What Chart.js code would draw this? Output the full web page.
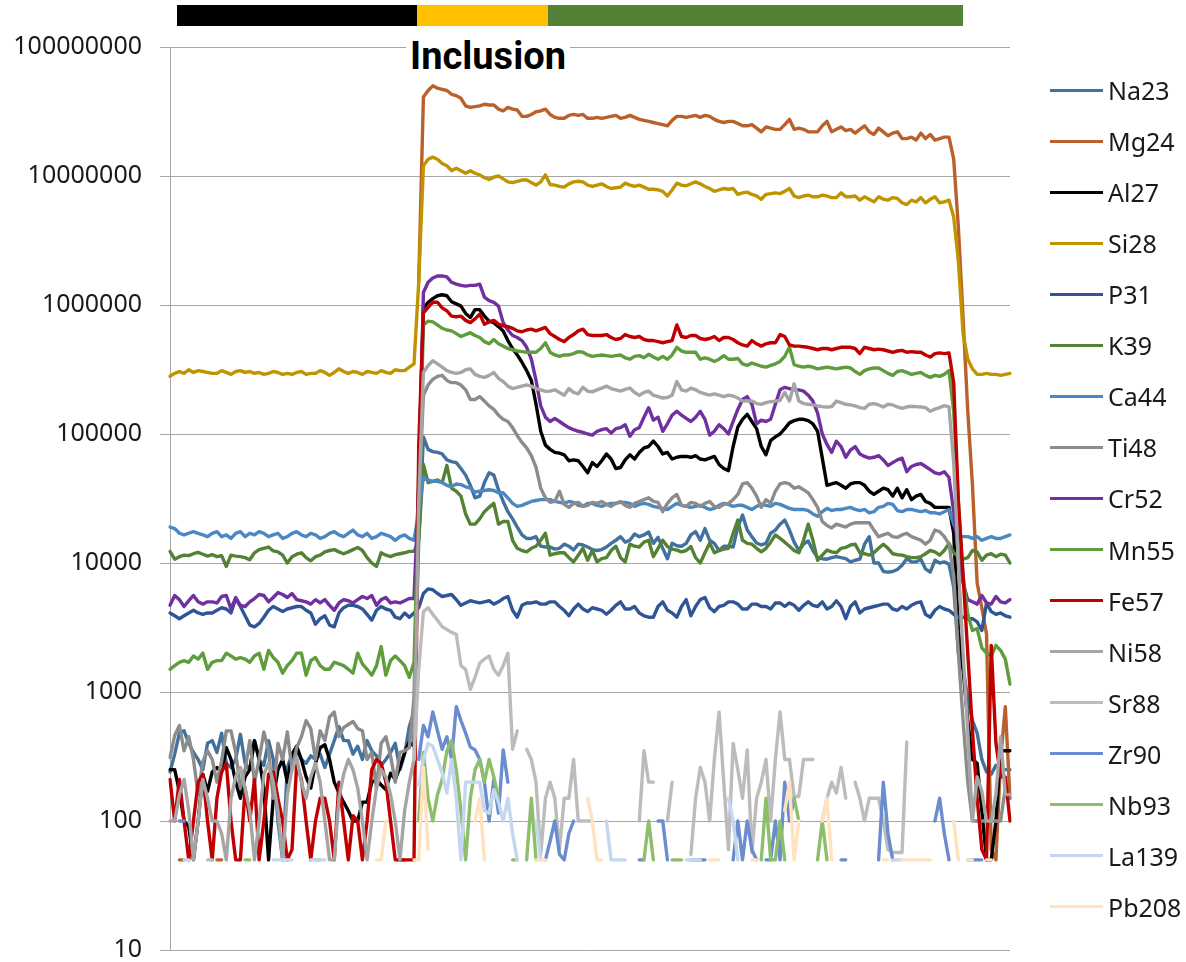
<!DOCTYPE html>
<html>
<head>
<meta charset="utf-8">
<script src="https://cdn.jsdelivr.net/npm/chart.js"></script>
<style>
html, body { margin: 0; padding: 0; background: #fff; overflow: hidden; }
#wrap { position: relative; width: 1186px; height: 962px; overflow: hidden; font-family: 'Noto Sans', sans-serif; }
#chart { position: absolute; left: 0; top: 0; }
.band { position: absolute; top: 5px; height: 21px; }
#title { position: absolute; left: 488px; top: 34px; transform: translateX(-50%); font-family: Roboto, sans-serif; font-weight: bold; font-size: 38px; line-height: 44px; background: #fff; padding: 0 4px; color: #000; }
.legend-row { position: absolute; left: 1050px; height: 30px; line-height: 30px; font-size: 25px; color: #1a1a1a; display: flex; align-items: center; white-space: nowrap; }
.swatch { display: inline-block; width: 53px; height: 3px; margin-right: 5px; }
</style>
</head>
<body>
<div id="wrap">
  <canvas id="chart" width="1186" height="983"></canvas>
  <div class="band" style="left:177px;width:240px;background:#000000"></div>
  <div class="band" style="left:417px;width:131px;background:#FFC000"></div>
  <div class="band" style="left:548px;width:415px;background:#538135"></div>
  <div id="title">Inclusion</div>
</div>
<script>
// counts per sweep (null = no value / gap)
const na23 = [
240, 330, 480, 500, 400, 340, 300, 250, 400, 420,
340, 480, 280, 260, 300, 470, 280, 250, 420, 300,
270, 420, 300, 100, 50, 260, 330, 350, 300, 280,
320, 300, 330, 260, 330, 420, 540, 420, 420, 330,
380, 300, 420, 350, 320, 270, 300, 340, 400, 250,
330, 540, 700, 1.5e4, 9.5e4, 7.6e4, 7.3e4, 7.2e4, 7.0e4, 6.3e4,
6.1e4, 6.0e4, 5.4e4, 4.8e4, 4.0e4, 3.2e4, 3.3e4, 4.2e4, 5.0e4, 4.8e4,
3.7e4, 3.0e4, 2.5e4, 2.2e4, 1.9e4, 1.65e4, 1.55e4, 1.55e4, 1.6e4, 1.35e4,
1.33e4, 1.33e4, 1.28e4, 1.3e4, 1.4e4, 1.35e4, 1.26e4, 1.4e4, 1.38e4, 1.33e4,
1.27e4, 1.25e4, 1.27e4, 1.33e4, 1.42e4, 1.5e4, 1.6e4, 1.45e4, 1.5e4, 1.68e4,
1.6e4, 1.65e4, 1.74e4, 1.42e4, 1.58e4, 1.3e4, 1.08e4, 1.42e4, 1.36e4, 1.35e4,
1.42e4, 1.65e4, 1.75e4, 1.5e4, 1.85e4, 1.5e4, 1.42e4, 1.25e4, 1.35e4, 1.35e4,
1.33e4, 1.9e4, 2.35e4, 1.8e4, 1.6e4, 1.43e4, 1.38e4, 1.42e4, 1.7e4, 1.8e4,
2.0e4, 2.15e4, 1.8e4, 1.45e4, 1.25e4, 1.4e4, 1.48e4, 1.25e4, 1.1e4, 1.08e4,
1.07e4, 1.1e4, 1.12e4, 1.1e4, 1.08e4, 1.02e4, 1.05e4, 1.07e4, 1.4e4, 1.6e4,
1.0e4, 1.0e4, 8.6e3, 8.5e3, 8.6e3, 8.9e3, 9.6e3, 1.08e4, 1.02e4, 1.02e4,
1.07e4, 9.0e3, 8.5e3, 1.05e4, 1.0e4, 1.02e4, 9.8e3, 6.5e3, 2.0e3, 1.5e3,
900, 600, 480, 300, 240, 230, 270, 260, 250, 250
];
const mg24 = [
null, null, 50, 50, null, null, null, null, null, null,
50, 50, null, null, null, null, null, null, null, null,
null, null, null, null, null, null, null, null, null, null,
null, null, null, null, null, null, null, null, null, null,
null, null, null, null, null, null, null, null, null, 50,
50, null, null, 1.5e6, 4.1e7, 4.6e7, 5.0e7, 4.8e7, 4.7e7, 4.6e7,
4.3e7, 4.2e7, 4.0e7, 3.5e7, 3.4e7, 3.45e7, 3.5e7, 3.6e7, 3.55e7, 3.55e7,
3.3e7, 3.2e7, 3.4e7, 3.3e7, 3.25e7, 2.9e7, 2.9e7, 3.0e7, 3.15e7, 3.2e7,
3.3e7, 3.0e7, 2.85e7, 2.8e7, 2.8e7, 2.95e7, 3.0e7, 2.95e7, 3.0e7, 2.8e7,
2.8e7, 2.85e7, 2.8e7, 2.85e7, 2.9e7, 2.95e7, 2.8e7, 2.85e7, 2.95e7, 2.85e7,
2.75e7, 2.7e7, 2.65e7, 2.6e7, 2.55e7, 2.5e7, 2.45e7, 2.7e7, 2.9e7, 2.9e7,
2.85e7, 2.9e7, 2.95e7, 2.85e7, 2.95e7, 2.9e7, 2.75e7, 2.65e7, 2.6e7, 2.65e7,
2.65e7, 2.55e7, 2.45e7, 2.45e7, 2.5e7, 2.35e7, 2.2e7, 2.4e7, 2.35e7, 2.3e7,
2.3e7, 2.5e7, 2.75e7, 2.3e7, 2.35e7, 2.3e7, 2.2e7, 2.2e7, 2.2e7, 2.45e7,
2.65e7, 2.2e7, 2.3e7, 2.4e7, 2.25e7, 2.3e7, 2.15e7, 2.3e7, 2.45e7, 2.2e7,
2.1e7, 2.35e7, 2.2e7, 2.05e7, 2.15e7, 2.2e7, 1.95e7, 1.95e7, 2.0e7, 1.9e7,
2.15e7, 1.95e7, 2.1e7, 1.9e7, 1.95e7, 2.0e7, 2.0e7, 1.35e7, 4e6, 8e5,
1.5e5, 4e4, 7e3, 4.5e3, 2.8e3, 60, 50, 300, 770, 150
];
const al27 = [
250, 250, 170, 100, 90, 50, 100, 230, 170, 240,
260, 240, 370, 300, 200, 150, 220, 250, 420, 300,
180, 50, 150, 250, 300, 200, 330, 380, 300, 220,
180, 280, 370, 390, 300, 200, 165, 140, 120, 100,
100, 140, 140, 200, 210, 190, 175, 235, 210, 260,
340, 410, 380, 5e4, 9.5e5, 1.05e6, 1.12e6, 1.18e6, 1.2e6, 1.18e6,
1.06e6, 1.02e6, 9.8e5, 8.6e5, 8.0e5, 9.2e5, 9.2e5, 8.2e5, 7.5e5, 7.3e5,
6.8e5, 6.3e5, 5.3e5, 4.6e5, 4.1e5, 3.6e5, 3.1e5, 2.6e5, 1.7e5, 1.05e5,
8.2e4, 7.6e4, 7.2e4, 7.1e4, 6.9e4, 6.2e4, 6.3e4, 6.2e4, 5.6e4, 5.0e4,
6.0e4, 5.6e4, 6.2e4, 7.0e4, 6.4e4, 5.4e4, 5.5e4, 6.3e4, 6.9e4, 6.4e4,
7.2e4, 7.8e4, 8.0e4, 8.8e4, 8.0e4, 7.0e4, 7.2e4, 6.4e4, 6.6e4, 6.7e4,
6.7e4, 6.6e4, 6.8e4, 6.4e4, 6.3e4, 6.5e4, 6.7e4, 5.8e4, 5.4e4, 5.2e4,
8.0e4, 1.13e5, 1.3e5, 1.42e5, 1.25e5, 1.1e5, 8.0e4, 6.9e4, 8.9e4, 9.5e4,
1.0e5, 1.1e5, 1.22e5, 1.27e5, 1.3e5, 1.3e5, 1.27e5, 1.2e5, 1.05e5, 6.5e4,
4.0e4, 4.1e4, 4.2e4, 4.0e4, 3.8e4, 4.1e4, 4.2e4, 4.2e4, 4.0e4, 3.6e4,
3.4e4, 3.6e4, 3.8e4, 3.7e4, 3.3e4, 3.8e4, 3.2e4, 3.7e4, 3.1e4, 3.3e4,
3.4e4, 3.0e4, 2.9e4, 2.7e4, 2.7e4, 2.7e4, 2.7e4, 1.7e4, 3e3, 1.5e3,
600, 300, 280, 120, 50, 50, 100, 350, 350, 350
];
const si28 = [
2.8e5, 2.95e5, 3.05e5, 2.95e5, 3.15e5, 3.0e5, 3.1e5, 3.05e5, 3.0e5, 2.95e5,
2.95e5, 3.1e5, 3.0e5, 2.9e5, 3.05e5, 3.1e5, 3.0e5, 3.05e5, 2.95e5, 3.0e5,
2.9e5, 2.95e5, 3.05e5, 3.0e5, 2.9e5, 2.95e5, 2.9e5, 3.0e5, 3.05e5, 2.9e5,
2.95e5, 2.95e5, 3.1e5, 3.0e5, 2.85e5, 3.0e5, 3.2e5, 3.05e5, 2.95e5, 3.05e5,
3.0e5, 2.9e5, 3.05e5, 3.0e5, 2.95e5, 3.1e5, 3.0e5, 2.95e5, 3.15e5, 3.1e5,
3.1e5, 3.3e5, 3.5e5, 1.5e6, 1.2e7, 1.35e7, 1.4e7, 1.35e7, 1.25e7, 1.2e7,
1.1e7, 1.15e7, 1.1e7, 1.05e7, 1.1e7, 1.05e7, 1.02e7, 9.7e6, 9.4e6, 9.8e6,
1.0e7, 9.5e6, 9.0e6, 8.9e6, 9.1e6, 9.3e6, 9.3e6, 8.9e6, 8.5e6, 9.0e6,
1.02e7, 8.6e6, 8.5e6, 8.3e6, 8.2e6, 8.7e6, 9.0e6, 9.1e6, 9.0e6, 8.5e6,
8.3e6, 8.5e6, 8.7e6, 8.3e6, 8.0e6, 8.1e6, 8.2e6, 8.8e6, 8.5e6, 8.3e6,
8.5e6, 8.2e6, 7.9e6, 7.9e6, 7.8e6, 7.6e6, 7.0e6, 7.8e6, 8.8e6, 8.5e6,
8.4e6, 8.7e6, 9.0e6, 8.7e6, 8.3e6, 8.0e6, 7.6e6, 7.8e6, 8.0e6, 7.9e6,
8.0e6, 7.2e6, 7.4e6, 7.5e6, 7.2e6, 7.0e6, 6.6e6, 7.2e6, 7.3e6, 7.4e6,
7.3e6, 7.6e6, 8.0e6, 7.0e6, 6.8e6, 7.0e6, 7.1e6, 6.9e6, 6.9e6, 7.1e6,
7.0e6, 6.8e6, 6.8e6, 7.4e6, 6.9e6, 6.9e6, 7.0e6, 6.5e6, 6.9e6, 6.6e6,
6.3e6, 6.9e6, 6.6e6, 6.5e6, 6.8e6, 6.7e6, 6.2e6, 6.0e6, 6.5e6, 6.3e6,
6.8e6, 6.2e6, 6.6e6, 6.9e6, 6.2e6, 6.3e6, 6.5e6, 4.8e6, 2.2e6, 6e5,
3.8e5, 3.2e5, 2.9e5, 2.9e5, 2.95e5, 2.9e5, 2.9e5, 2.85e5, 2.9e5, 2.95e5
];
const p31 = [
4.1e3, 3.9e3, 3.7e3, 3.9e3, 4.1e3, 4.3e3, 4.1e3, 4.0e3, 4.1e3, 4.1e3,
4.3e3, 4.5e3, 4.4e3, 4.1e3, 5.3e3, 4.6e3, 3.9e3, 3.3e3, 3.2e3, 3.4e3,
3.8e3, 4.3e3, 4.6e3, 4.4e3, 4.2e3, 4.4e3, 4.5e3, 4.6e3, 4.6e3, 4.3e3,
4.1e3, 3.35e3, 3.7e3, 3.9e3, 3.3e3, 3.2e3, 4.1e3, 4.5e3, 4.7e3, 4.7e3,
4.6e3, 4.4e3, 4.0e3, 3.6e3, 4.3e3, 4.6e3, 4.4e3, 4.3e3, 3.8e3, 3.7e3,
4.1e3, 3.8e3, 4.1e3, 4.5e3, 5.8e3, 6.3e3, 6.2e3, 5.8e3, 5.5e3, 5.6e3,
5.7e3, 5.2e3, 4.7e3, 4.9e3, 5.1e3, 5.0e3, 4.9e3, 5.0e3, 5.1e3, 4.8e3,
5.0e3, 5.3e3, 5.5e3, 4.3e3, 3.8e3, 4.7e3, 4.9e3, 4.9e3, 5.0e3, 4.8e3,
4.8e3, 5.0e3, 5.0e3, 4.6e3, 4.3e3, 3.9e3, 4.4e3, 4.8e3, 4.4e3, 4.2e3,
4.5e3, 4.4e3, 4.3e3, 4.0e3, 4.3e3, 4.7e3, 5.0e3, 4.4e3, 4.4e3, 4.6e3,
4.1e3, 3.9e3, 3.8e3, 3.8e3, 4.6e3, 5.0e3, 4.3e3, 4.1e3, 3.8e3, 4.6e3,
5.2e3, 3.9e3, 4.6e3, 5.2e3, 5.4e3, 4.5e3, 4.2e3, 4.6e3, 4.7e3, 5.0e3,
5.0e3, 4.8e3, 4.4e3, 4.4e3, 4.8e3, 4.8e3, 4.6e3, 4.6e3, 4.4e3, 4.9e3,
4.9e3, 4.6e3, 4.9e3, 4.7e3, 4.3e3, 4.7e3, 5.0e3, 4.7e3, 4.6e3, 5.0e3,
4.4e3, 4.6e3, 5.1e3, 4.6e3, 3.7e3, 4.6e3, 5.0e3, 4.1e3, 4.4e3, 4.5e3,
4.6e3, 4.7e3, 4.8e3, 4.8e3, 4.4e3, 4.3e3, 4.6e3, 4.4e3, 4.7e3, 4.9e3,
5.0e3, 4.0e3, 3.8e3, 4.3e3, 4.6e3, 4.4e3, 4.3e3, 4.0e3, 3.8e3, 3.8e3,
3.7e3, 3.7e3, 3.5e3, 3.0e3, 4.9e3, 4.2e3, 4.0e3, 4.1e3, 3.9e3, 3.8e3
];
const k39 = [
1.23e4, 1.07e4, 1.12e4, 1.15e4, 1.14e4, 1.18e4, 1.21e4, 1.17e4, 1.13e4, 1.16e4,
1.12e4, 1.14e4, 9.4e3, 1.15e4, 1.13e4, 1.12e4, 1.1e4, 1.06e4, 1.2e4, 1.27e4,
1.3e4, 1.33e4, 1.24e4, 1.22e4, 1.15e4, 1.0e4, 1.12e4, 1.17e4, 1.2e4, 1.1e4,
1.04e4, 1.12e4, 1.15e4, 1.22e4, 1.25e4, 1.27e4, 1.22e4, 1.18e4, 1.22e4, 1.27e4,
1.32e4, 1.25e4, 1.1e4, 1.0e4, 9.4e3, 1.2e4, 1.15e4, 1.12e4, 1.16e4, 1.18e4,
1.2e4, 1.23e4, 1.23e4, 1.5e4, 5.8e4, 4.2e4, 4.3e4, 4.4e4, 4.2e4, 5.7e4,
3.8e4, 3.6e4, 3.3e4, 2.4e4, 2.0e4, 2.0e4, 2.2e4, 2.5e4, 2.7e4, 2.9e4,
2.0e4, 2.1e4, 2.1e4, 1.5e4, 1.3e4, 1.25e4, 1.22e4, 1.3e4, 1.35e4, 1.5e4,
1.7e4, 1.15e4, 1.18e4, 1.2e4, 1.2e4, 1.1e4, 1.02e4, 1.15e4, 1.3e4, 1.05e4,
1.25e4, 1.02e4, 1.08e4, 1.1e4, 1.25e4, 1.35e4, 1.1e4, 1.02e4, 1.4e4, 1.35e4,
1.33e4, 1.45e4, 1.5e4, 1.12e4, 1.3e4, 1.5e4, 1.34e4, 1.28e4, 1.26e4, 1.22e4,
1.25e4, 1.34e4, 1.1e4, 1.0e4, 1.2e4, 1.43e4, 1.2e4, 1.25e4, 1.28e4, 1.3e4,
1.7e4, 2.15e4, 1.5e4, 1.42e4, 1.4e4, 1.3e4, 1.22e4, 1.3e4, 1.45e4, 1.65e4,
1.55e4, 1.45e4, 1.35e4, 1.25e4, 1.2e4, 1.5e4, 2.0e4, 1.5e4, 1.05e4, 1.15e4,
1.26e4, 1.22e4, 1.2e4, 1.3e4, 1.32e4, 1.38e4, 1.4e4, 1.2e4, 1.18e4, 1.15e4,
1.2e4, 1.3e4, 1.4e4, 1.3e4, 1.18e4, 1.16e4, 1.15e4, 1.12e4, 1.1e4, 1.1e4,
1.12e4, 1.18e4, 1.25e4, 1.22e4, 1.15e4, 1.25e4, 1.42e4, 1.2e4, 1.12e4, 1.07e4,
1.1e4, 1.25e4, 1.22e4, 1.05e4, 1.15e4, 1.18e4, 1.12e4, 1.17e4, 1.15e4, 1.0e4
];
const ca44 = [
1.9e4, 1.85e4, 1.7e4, 1.65e4, 1.7e4, 1.75e4, 1.7e4, 1.65e4, 1.6e4, 1.7e4,
1.75e4, 1.6e4, 1.65e4, 1.55e4, 1.7e4, 1.75e4, 1.6e4, 1.7e4, 1.65e4, 1.75e4,
1.7e4, 1.6e4, 1.65e4, 1.7e4, 1.55e4, 1.6e4, 1.7e4, 1.75e4, 1.65e4, 1.6e4,
1.7e4, 1.65e4, 1.55e4, 1.6e4, 1.7e4, 1.75e4, 1.65e4, 1.6e4, 1.7e4, 1.8e4,
1.65e4, 1.6e4, 1.7e4, 1.55e4, 1.6e4, 1.7e4, 1.65e4, 1.6e4, 1.5e4, 1.6e4,
1.65e4, 1.55e4, 1.5e4, 2.5e4, 4.6e4, 4.4e4, 4.3e4, 4.3e4, 4.2e4, 4.0e4,
3.9e4, 4.1e4, 4.05e4, 3.9e4, 3.8e4, 3.55e4, 3.6e4, 3.65e4, 3.7e4, 3.65e4,
3.5e4, 3.5e4, 3.2e4, 2.9e4, 2.75e4, 2.8e4, 2.9e4, 3.0e4, 3.05e4, 3.1e4,
3.1e4, 3.1e4, 3.0e4, 2.95e4, 2.9e4, 3.0e4, 2.95e4, 2.8e4, 2.75e4, 2.9e4,
2.9e4, 2.8e4, 2.75e4, 2.85e4, 2.9e4, 2.9e4, 2.95e4, 2.95e4, 2.9e4, 2.75e4,
2.85e4, 2.9e4, 2.85e4, 2.75e4, 2.7e4, 2.65e4, 2.6e4, 2.75e4, 2.9e4, 2.8e4,
2.75e4, 2.7e4, 2.75e4, 2.8e4, 2.7e4, 2.6e4, 2.65e4, 2.8e4, 2.9e4, 2.85e4,
2.75e4, 2.8e4, 2.8e4, 2.7e4, 2.6e4, 2.75e4, 2.85e4, 2.8e4, 2.75e4, 2.9e4,
2.85e4, 2.75e4, 2.65e4, 2.6e4, 2.6e4, 2.6e4, 2.55e4, 2.4e4, 2.3e4, 2.5e4,
2.65e4, 2.55e4, 2.6e4, 2.6e4, 2.65e4, 2.7e4, 2.6e4, 2.55e4, 2.6e4, 2.45e4,
2.5e4, 2.7e4, 2.75e4, 2.9e4, 2.85e4, 2.55e4, 2.5e4, 2.6e4, 2.6e4, 2.55e4,
2.5e4, 2.55e4, 2.45e4, 2.45e4, 2.4e4, 2.5e4, 2.6e4, 2.0e4, 1.6e4, 1.6e4,
1.6e4, 1.55e4, 1.6e4, 1.5e4, 1.55e4, 1.6e4, 1.55e4, 1.55e4, 1.6e4, 1.65e4
];
const ti48 = [
310, 460, 550, 350, 450, 300, 160, 290, 350, 300,
200, 290, 500, 500, 340, 180, 250, 420, 200, 300,
490, 350, 150, 400, 300, 490, 250, 370, 450, 600,
520, 300, 500, 420, 640, 700, 450, 530, 560, 590,
520, 500, 300, 340, 180, 400, 450, 320, 200, 340,
350, 370, 900, 3e4, 2.0e5, 2.4e5, 2.65e5, 2.8e5, 2.85e5, 2.6e5,
2.5e5, 2.5e5, 2.4e5, 2.2e5, 1.85e5, 1.85e5, 1.95e5, 1.8e5, 1.65e5, 1.55e5,
1.4e5, 1.3e5, 1.25e5, 1.12e5, 9.7e4, 8.6e4, 7.8e4, 6.8e4, 5.5e4, 3.8e4,
3.2e4, 2.95e4, 3.0e4, 3.6e4, 2.85e4, 2.7e4, 2.9e4, 2.95e4, 2.75e4, 2.8e4,
2.95e4, 2.9e4, 3.0e4, 2.85e4, 2.75e4, 2.9e4, 3.0e4, 2.8e4, 2.7e4, 2.9e4,
3.0e4, 3.1e4, 3.2e4, 3.0e4, 2.95e4, 2.5e4, 2.9e4, 3.2e4, 3.4e4, 2.8e4,
2.75e4, 2.95e4, 2.9e4, 2.75e4, 2.9e4, 3.0e4, 2.75e4, 2.7e4, 2.85e4, 2.9e4,
3.1e4, 3.4e4, 4.1e4, 4.2e4, 3.8e4, 3.3e4, 2.7e4, 3.1e4, 2.9e4, 3.6e4,
4.1e4, 4.2e4, 4.1e4, 3.8e4, 3.9e4, 3.7e4, 3.5e4, 3.1e4, 2.7e4, 2.1e4,
1.95e4, 1.87e4, 2.0e4, 1.95e4, 1.9e4, 2.0e4, 2.05e4, 2.05e4, 2.05e4, 2.05e4,
1.8e4, 1.6e4, 1.65e4, 1.7e4, 1.6e4, 1.58e4, 1.65e4, 1.7e4, 1.6e4, 1.55e4,
1.5e4, 1.4e4, 1.5e4, 1.8e4, 1.75e4, 1.6e4, 1.4e4, 8e3, 2e3, 600,
200, 100, 100, 100, 100, 100, 100, 100, 180, 150
];
const cr52 = [
4.7e3, 5.6e3, 5.2e3, 4.6e3, 5.1e3, 5.6e3, 5.0e3, 4.8e3, 5.0e3, 5.0e3,
4.9e3, 5.5e3, 5.6e3, 4.4e3, 5.4e3, 4.7e3, 4.6e3, 5.0e3, 5.3e3, 5.7e3,
5.6e3, 5.0e3, 5.4e3, 5.9e3, 5.7e3, 5.4e3, 5.8e3, 5.2e3, 5.1e3, 5.0e3,
4.8e3, 5.2e3, 4.9e3, 5.2e3, 4.7e3, 4.3e3, 4.9e3, 5.2e3, 5.1e3, 4.9e3,
5.2e3, 5.5e3, 5.3e3, 5.6e3, 4.7e3, 5.2e3, 5.4e3, 4.9e3, 5.0e3, 4.9e3,
5.1e3, 5.3e3, 5.3e3, 4e4, 1.25e6, 1.5e6, 1.62e6, 1.68e6, 1.68e6, 1.65e6,
1.5e6, 1.45e6, 1.42e6, 1.4e6, 1.42e6, 1.42e6, 1.45e6, 1.15e6, 1.08e6, 1.05e6,
9.8e5, 7.3e5, 6.4e5, 5.8e5, 5.6e5, 5.3e5, 4.7e5, 3.8e5, 2.6e5, 1.65e5,
1.35e5, 1.25e5, 1.32e5, 1.25e5, 1.18e5, 1.12e5, 1.08e5, 1.05e5, 1.03e5, 1.0e5,
9.8e4, 1.05e5, 1.08e5, 1.1e5, 1.02e5, 1.1e5, 1.12e5, 1.18e5, 9.6e4, 1.08e5,
1.12e5, 1.35e5, 1.6e5, 1.28e5, 1.35e5, 1.05e5, 1.2e5, 1.4e5, 1.5e5, 1.4e5,
1.32e5, 1.25e5, 1.35e5, 1.5e5, 1.3e5, 9.8e4, 1.05e5, 1.18e5, 1.1e5, 1.0e5,
1.25e5, 1.55e5, 1.85e5, 1.95e5, 1.7e5, 1.2e5, 1.28e5, 1.25e5, 1.3e5, 1.7e5,
2.2e5, 2.3e5, 2.25e5, 2.2e5, 2.2e5, 2.15e5, 2.0e5, 1.8e5, 1.45e5, 1.0e5,
8.3e4, 7.2e4, 8.8e4, 8.0e4, 6.6e4, 7.5e4, 8.0e4, 7.0e4, 6.7e4, 6.5e4,
6.6e4, 6.8e4, 6.3e4, 5.7e4, 6.0e4, 6.3e4, 6.5e4, 5.1e4, 5.6e4, 5.8e4,
5.9e4, 5.6e4, 5.3e4, 5.0e4, 4.9e4, 5.1e4, 4.6e4, 2.5e4, 1.2e4, 7e3,
5.2e3, 5.0e3, 4.8e3, 5.6e3, 4.9e3, 4.8e3, 5.5e3, 5.0e3, 4.9e3, 5.2e3
];
const mn55 = [
1.5e3, 1.6e3, 1.7e3, 1.75e3, 1.7e3, 1.9e3, 1.8e3, 2.0e3, 1.5e3, 1.7e3,
1.75e3, 1.75e3, 2.0e3, 1.9e3, 1.8e3, 1.85e3, 1.8e3, 1.7e3, 1.9e3, 2.0e3,
1.5e3, 2.1e3, 1.85e3, 1.7e3, 1.4e3, 1.6e3, 1.75e3, 2.0e3, 2.0e3, 1.35e3,
1.75e3, 1.85e3, 1.6e3, 1.5e3, 1.5e3, 1.7e3, 1.65e3, 1.6e3, 1.5e3, 1.4e3,
2.0e3, 1.65e3, 1.5e3, 1.35e3, 1.6e3, 2.25e3, 1.35e3, 1.75e3, 1.9e3, 1.75e3,
1.6e3, 1.3e3, 1.7e3, 3e4, 7.0e5, 7.5e5, 7.4e5, 7.0e5, 6.6e5, 6.4e5,
6.3e5, 6.0e5, 5.7e5, 5.9e5, 6.1e5, 5.8e5, 5.6e5, 5.2e5, 5.0e5, 5.4e5,
5.0e5, 4.8e5, 4.6e5, 4.5e5, 4.4e5, 4.35e5, 4.3e5, 4.3e5, 4.3e5, 4.6e5,
5.1e5, 4.3e5, 4.1e5, 4.0e5, 4.1e5, 4.1e5, 4.2e5, 4.35e5, 4.3e5, 4.1e5,
4.0e5, 4.05e5, 4.1e5, 4.05e5, 4.0e5, 4.05e5, 4.1e5, 3.9e5, 3.8e5, 4.0e5,
4.05e5, 3.9e5, 4.15e5, 3.95e5, 3.8e5, 4.0e5, 3.8e5, 4.1e5, 4.7e5, 4.4e5,
4.3e5, 4.3e5, 4.3e5, 3.8e5, 3.9e5, 3.8e5, 3.65e5, 3.8e5, 4.05e5, 3.8e5,
3.8e5, 3.85e5, 3.5e5, 3.4e5, 3.55e5, 3.45e5, 3.35e5, 3.3e5, 3.4e5, 3.5e5,
3.65e5, 4.0e5, 4.7e5, 3.45e5, 3.35e5, 3.3e5, 3.35e5, 3.3e5, 3.2e5, 3.25e5,
3.3e5, 3.25e5, 3.2e5, 3.25e5, 3.3e5, 3.25e5, 3.05e5, 2.9e5, 3.1e5, 3.2e5,
3.25e5, 3.25e5, 3.1e5, 2.95e5, 2.85e5, 3.05e5, 3.1e5, 3.0e5, 2.9e5, 2.95e5,
3.0e5, 2.85e5, 2.75e5, 2.85e5, 2.8e5, 2.9e5, 3.1e5, 1.5e5, 3e4, 8e3,
4e3, 3.0e3, 3.1e3, 2.2e3, 2.0e3, 1.9e3, 2.3e3, 2.1e3, 1.8e3, 1.15e3
];
const fe57 = [
210, 100, 210, 100, 50, 100, 200, 230, 100, 50,
150, 240, 280, 100, 50, 50, 180, 100, 210, 50,
100, 230, 240, 150, 100, 50, 60, 280, 210, 100,
50, 100, 150, 150, 100, 50, 200, 100, 50, 110,
100, 50, 100, 250, 300, 280, 200, 100, 50, 50,
50, 50, 50, 8e4, 8.7e5, 9.6e5, 1.05e6, 1.05e6, 9.5e5, 9e5,
8.2e5, 8.1e5, 8.2e5, 7.6e5, 7.3e5, 7.8e5, 8.5e5, 7.1e5, 7.4e5, 7.6e5,
7.1e5, 6.9e5, 6.8e5, 6.6e5, 6.3e5, 6.2e5, 6.4e5, 6.5e5, 6.3e5, 6.5e5,
6.7e5, 6.0e5, 5.7e5, 5.4e5, 5.2e5, 5.6e5, 5.9e5, 6.3e5, 6.5e5, 5.9e5,
5.8e5, 5.8e5, 5.8e5, 5.9e5, 5.6e5, 5.4e5, 5.5e5, 5.9e5, 5.7e5, 5.6e5,
5.7e5, 5.4e5, 5.3e5, 5.3e5, 5.2e5, 5.1e5, 5.2e5, 5.3e5, 7.0e5, 5.7e5,
5.6e5, 5.8e5, 5.8e5, 5.5e5, 5.4e5, 5.5e5, 5.7e5, 5.3e5, 5.6e5, 5.6e5,
5.4e5, 5.1e5, 4.9e5, 4.8e5, 5.3e5, 5.0e5, 4.8e5, 5.0e5, 5.1e5, 5.1e5,
5.9e5, 5.7e5, 4.9e5, 4.8e5, 4.8e5, 4.75e5, 4.7e5, 4.6e5, 4.5e5, 4.6e5,
4.6e5, 4.5e5, 4.6e5, 4.7e5, 4.7e5, 4.7e5, 4.6e5, 4.2e5, 4.7e5, 4.6e5,
4.5e5, 4.55e5, 4.5e5, 4.4e5, 4.3e5, 4.4e5, 4.45e5, 4.3e5, 4.35e5, 4.3e5,
4.3e5, 4.1e5, 3.95e5, 4.2e5, 4.25e5, 4.2e5, 4.25e5, 2.5e5, 3e4, 8e3,
2e3, 500, 150, 60, 50, 2.3e3, 400, 220, 220, 100
];
const ni58 = [
100, 100, 160, 210, 120, 50, 100, 210, 150, 100,
100, 80, 50, 150, 220, 260, 180, 120, 50, 100,
230, 280, 200, 120, 50, 160, 250, 310, 200, 150,
220, 280, 200, 100, 50, 50, 150, 230, 300, 250,
180, 100, 50, 100, 180, 250, 220, 160, 100, 50,
120, 200, 300, 3e4, 3.0e5, 3.4e5, 3.7e5, 3.5e5, 3.3e5, 3.1e5,
3.0e5, 2.95e5, 3.0e5, 3.15e5, 3.2e5, 2.9e5, 2.8e5, 2.75e5, 2.85e5, 3.0e5,
2.7e5, 2.55e5, 2.35e5, 2.25e5, 2.3e5, 2.35e5, 2.4e5, 2.35e5, 2.25e5, 2.2e5,
2.14e5, 2.15e5, 2.2e5, 2.1e5, 2.0e5, 2.25e5, 2.1e5, 2.05e5, 2.3e5, 2.15e5,
2.12e5, 2.2e5, 2.27e5, 2.35e5, 2.25e5, 2.2e5, 2.15e5, 2.22e5, 2.27e5, 2.1e5,
2.0e5, 2.1e5, 2.15e5, 2.0e5, 1.95e5, 1.9e5, 1.92e5, 2.0e5, 2.55e5, 2.2e5,
2.15e5, 2.27e5, 2.2e5, 2.1e5, 2.05e5, 2.0e5, 2.05e5, 2.0e5, 1.95e5, 2.0e5,
1.97e5, 1.9e5, 1.8e5, 1.8e5, 1.8e5, 1.72e5, 1.7e5, 1.75e5, 1.78e5, 1.8e5,
1.82e5, 2.1e5, 1.8e5, 2.45e5, 1.8e5, 1.72e5, 1.7e5, 1.68e5, 1.65e5, 1.63e5,
1.62e5, 1.63e5, 1.8e5, 1.75e5, 1.7e5, 1.68e5, 1.65e5, 1.6e5, 1.58e5, 1.7e5,
1.72e5, 1.68e5, 1.62e5, 1.7e5, 1.68e5, 1.62e5, 1.58e5, 1.62e5, 1.64e5, 1.63e5,
1.62e5, 1.6e5, 1.5e5, 1.56e5, 1.6e5, 1.66e5, 1.62e5, 6e4, 1e4, 2e3,
500, 100, 220, 170, 100, 100, 160, 450, 160, 160
];
const sr88 = [
null, null, null, null, null, null, null, null, 50, 50,
null, null, null, null, null, null, null, null, null, null,
null, null, null, null, null, null, null, null, null, null,
null, null, null, null, null, null, null, null, null, null,
null, null, null, null, null, null, null, null, null, null,
null, null, 300, 1.5e3, 4.2e3, 4.5e3, 4.0e3, 3.6e3, 3.2e3, 3.05e3,
2.9e3, 2.8e3, 1.6e3, 1.5e3, 1.05e3, 1.3e3, 1.67e3, 1.8e3, 1.9e3, 1.5e3,
1.35e3, 1.6e3, 2.0e3, 360, 500, null, 360, 300, 200, 55,
150, 200, 150, 60, 150, 150, 300, 100, 100, 100,
100, null, null, null, null, null, null, null, null, null,
100, 350, 200, 200, null, null, 100, 200, null, null,
null, 55, 150, 260, 200, 100, 300, 700, 200, 60,
400, 250, 150, 356, 57, 150, 200, 300, 100, 300,
700, 300, 300, 155, 155, 300, 300, 300, null, 100,
150, 200, 165, 260, 150, null, 200, 150, 100, 150,
150, 150, 100, 60, 57, 57, 57, 410, null, null,
null, null, null, null, null, null, null, null, null, null,
null, null, null, null, null, null, null, null, null, null
];
const zr90 = [
null, null, 100, 100, null, null, null, null, null, null,
null, null, null, null, null, null, null, null, null, null,
null, null, null, null, null, null, null, null, null, null,
null, null, null, null, null, null, null, null, null, null,
null, null, null, null, null, null, null, null, null, null,
null, null, null, 300, 550, 450, 700, 500, 360, 450,
300, 770, 600, 480, 375, 356, 300, 200, 100, 210,
115, 356, 200, null, null, null, null, null, null, null,
50, 70, 100, 55, 50, 80, 100, null, null, null,
null, null, null, null, null, null, null, null, null, null,
50, 50, null, null, 100, 100, 50, null, null, null,
null, 50, 50, 50, 50, null, null, null, null, null,
50, 100, 50, 100, 60, 50, null, 50, 50, 100,
50, 200, 100, 150, null, null, null, null, null, null,
null, null, null, 50, 50, null, null, null, null, null,
null, 50, 200, 80, 50, null, null, null, null, null,
null, null, null, 100, 150, 80, 50, null, null, null,
50, 50, 50, 50, null, null, null, null, null, null
];
const nb93 = [
null, null, null, null, null, null, null, null, null, null,
null, null, null, null, null, null, 50, 50, null, null,
null, null, null, null, null, null, null, null, null, null,
null, 50, 50, null, null, null, null, null, null, null,
null, null, null, null, null, null, null, null, null, null,
null, null, null, 100, 340, 150, 100, 160, 210, 350,
420, 250, 120, 50, 150, 250, 300, 200, 300, 220,
150, null, null, 50, 50, null, 50, 150, 50, null,
null, null, null, null, null, null, null, null, null, null,
null, null, null, null, null, null, null, null, null, null,
null, 50, 100, 50, null, null, null, 50, 50, 50,
null, null, null, null, null, null, null, null, null, null,
null, null, null, null, null, null, 50, 150, 50, 50,
100, 50, null, 150, 100, null, null, null, 50, 100,
50, null, null, null, null, null, null, null, null, null,
null, null, null, null, null, null, null, null, null, null,
null, null, null, null, null, null, null, null, null, null,
null, null, null, null, null, null, null, null, null, null
];
const la139 = [
null, null, null, 50, 50, null, null, null, null, null,
null, null, null, null, null, null, null, null, null, null,
null, null, 50, 50, 50, 50, 50, null, null, null,
50, 50, 50, 50, null, null, null, null, null, null,
null, null, null, null, null, null, null, null, null, null,
null, null, null, 190, 300, 400, 380, 300, 235, 165,
300, 150, 50, 200, 200, 200, 200, 120, 115, 175,
140, 100, 150, 80, 50, null, null, null, 100, 50,
null, null, null, null, null, null, null, null, null, null,
null, null, null, 100, 50, 50, 50, 50, null, null,
null, null, null, null, null, null, null, null, null, null,
50, 50, 50, 50, null, null, null, null, null, 150,
100, 50, null, null, null, null, null, null, null, null,
null, null, null, null, null, null, null, null, null, null,
null, null, null, null, null, null, null, null, null, null,
null, null, null, null, 50, 50, 50, null, null, null,
null, null, null, null, null, null, null, null, null, null,
null, null, null, null, null, null, null, null, null, null
];
const pb208 = [
null, null, null, null, null, null, null, null, null, null,
null, null, null, null, null, null, null, null, null, null,
null, null, null, null, null, null, null, null, null, null,
null, null, null, null, null, null, null, null, null, null,
null, null, null, null, 50, 50, 100, null, null, null,
null, null, 50, 50, 260, 60, null, null, null, null,
null, null, null, null, null, 100, 150, 50, null, null,
null, null, null, null, null, null, null, null, 50, 50,
50, null, null, null, null, null, null, null, null, 150,
100, 50, 50, null, null, null, null, null, null, null,
null, null, null, null, null, null, null, null, null, null,
null, null, null, null, null, 50, 50, 50, null, null,
null, null, null, null, 50, 50, null, null, null, null,
null, 120, 200, 50, 100, null, null, null, null, 100,
150, 50, null, null, null, null, null, null, null, null,
null, null, 50, 50, null, null, 50, 50, 50, 50,
50, 50, 50, null, null, null, null, 100, 50, null,
50, 50, null, null, 50, 50, null, null, null, null
];

const seriesNames = ['Na23', 'Mg24', 'Al27', 'Si28', 'P31', 'K39', 'Ca44', 'Ti48', 'Cr52',
  'Mn55', 'Fe57', 'Ni58', 'Sr88', 'Zr90', 'Nb93', 'La139', 'Pb208'];
const seriesColors = ['#41719C', '#B9602B', '#000000', '#C09400', '#2F5597', '#548235', '#4A88C2',
  '#8C8C8C', '#7030A0', '#5E9C3C', '#C00000', '#A5A5A5', '#BCBCBC', '#6B8DD0', '#8DBE6C', '#C4D7EE', '#FFE2BE'];
const seriesValues = [na23, mg24, al27, si28, p31, k39, ca44, ti48, cr52,
  mn55, fe57, ni58, sr88, zr90, nb93, la139, pb208];
const yTicks = [10, 100, 1000, 10000, 100000, 1000000, 10000000, 100000000];

const wrap = document.getElementById('wrap');
seriesNames.forEach((name, i) => {
  const row = document.createElement('div');
  row.className = 'legend-row';
  row.style.top = (90 + i * 51.06 - 15) + 'px';
  row.innerHTML = `<span class="swatch" style="background:${seriesColors[i]}"></span><span>${name}</span>`;
  wrap.appendChild(row);
});

const datasets = seriesNames.map((name, i) => ({
  label: name,
  data: seriesValues[i],
  borderColor: seriesColors[i],
  backgroundColor: seriesColors[i],
  borderWidth: 3.4,
  borderJoinStyle: 'round',
  borderCapStyle: 'round',
  pointRadius: 0,
  pointHoverRadius: 0,
  tension: 0,
  fill: false,
  spanGaps: false,
  order: seriesNames.length - i   // later series drawn on top, like the original
}));

// the canvas runs a little below the window: the y axis keeps room under the "10" label
new Chart(document.getElementById('chart'), {
  type: 'line',
  data: { labels: na23.map((v, i) => i + 1), datasets },
  options: {
    responsive: false,
    animation: false,
    events: [],
    layout: { padding: { left: 0, top: 47, right: 176, bottom: 0 } },
    plugins: { legend: { display: false }, tooltip: { enabled: false } },
    scales: {
      x: { display: false },
      y: {
        type: 'logarithmic',
        min: 10,
        max: 100000000,
        afterFit: s => { s.width = 170; },
        afterBuildTicks: s => { s.ticks = yTicks.map(v => ({ value: v })); },
        grid: { color: '#A6A6A6', lineWidth: 1, tickLength: 10 },
        border: { display: true, color: '#A6A6A6', width: 1 },
        ticks: {
          padding: 18,
          color: '#1a1a1a',
          font: { size: 25, family: "'Noto Sans', sans-serif" },
          callback: v => String(v)
        }
      }
    }
  }
});
</script>
</body>
</html>
